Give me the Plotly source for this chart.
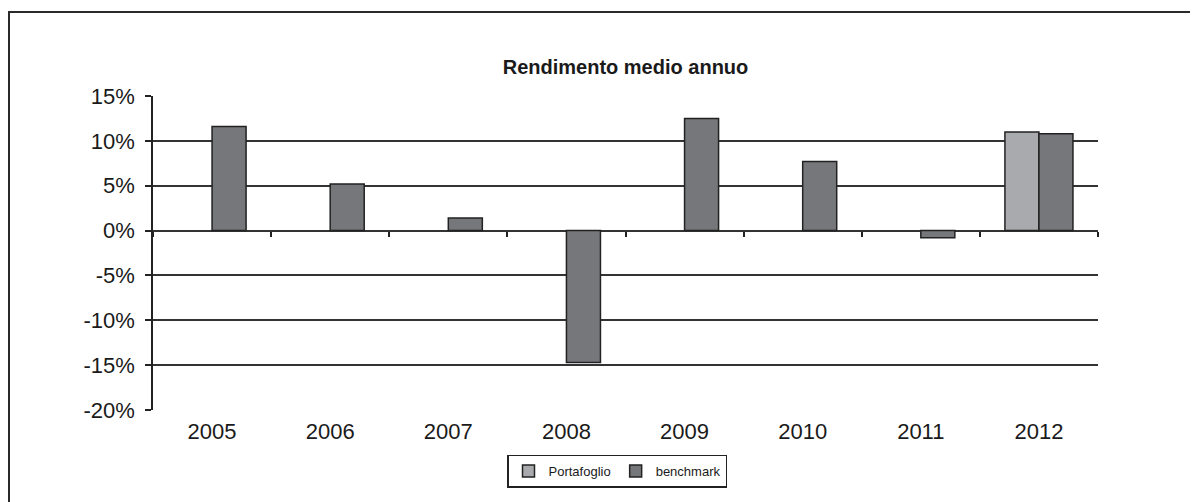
import plotly.graph_objects as go

years = ["2005", "2006", "2007", "2008", "2009", "2010", "2011", "2012"]
portafoglio = [None, None, None, None, None, None, None, 11.0]
benchmark = [11.6, 5.2, 1.4, -14.7, 12.5, 7.7, -0.8, 10.8]
y_ticks = [-20, -15, -10, -5, 0, 5, 10, 15]
y_labels = ["-20%", "-15%", "-10%", "-5%", "0%", "5%", "10%", "15%"]

FONT = "Liberation Sans, Arial, sans-serif"
EDGE = "#222222"

# the page has an 8px body margin, so plot coords are shifted by -8
L, R, T, B = 145, 1090, 88, 402
PW, PH = R - L, B - T

fig = go.Figure()

fig.add_trace(go.Bar(
    x=years, y=portafoglio, name="Portafoglio",
    marker=dict(color="#a9aaad", line=dict(color=EDGE, width=1.5)),
))
fig.add_trace(go.Bar(
    x=years, y=benchmark, name="benchmark",
    marker=dict(color="#76777b", line=dict(color=EDGE, width=1.5)),
))

# invisible helper trace so the category axis crossing at 0 gets its ticks
fig.add_trace(go.Scatter(
    x=years, y=benchmark, xaxis="x2", mode="markers",
    marker=dict(opacity=0), showlegend=False, hoverinfo="skip",
))

y_min, y_max = y_ticks[0], y_ticks[-1]

fig.update_layout(
    width=1198, height=502,
    margin=dict(l=L, r=1198 - R, t=T, b=502 - B),
    paper_bgcolor="white", plot_bgcolor="white",
    font=dict(family=FONT, color="#1a1a1a", size=22),
    barmode="group", bargap=0.424, bargroupgap=0,
    title=dict(
        text="<b>Rendimento medio annuo</b>",
        x=(L + R) / 2 / 1198, xanchor="center",
        y=1 - 59 / 502, yanchor="middle",
        font=dict(size=20, family=FONT, color="#1a1a1a"),
    ),
    xaxis=dict(
        type="category", range=[-0.5, 7.5],
        showgrid=False, zeroline=False, showline=False, ticks="",
        tickfont=dict(size=22), ticklabelstandoff=6,
    ),
    xaxis2=dict(
        type="category", overlaying="x", anchor="free",
        position=(0 - y_min) / (y_max - y_min),
        range=[-0.5, 7.5], tickson="boundaries",
        ticks="outside", ticklen=5, tickcolor=EDGE, tickwidth=1.5,
        showticklabels=False, showgrid=False, zeroline=False, showline=False,
    ),
    yaxis=dict(
        range=[y_min, y_max], tickvals=y_ticks, ticktext=y_labels,
        showgrid=True, gridcolor="#333333", gridwidth=1.5,
        zeroline=True, zerolinecolor="#333333", zerolinewidth=1.5,
        showline=True, linecolor=EDGE, linewidth=1.5,
        ticks="outside", ticklen=6, tickcolor=EDGE, tickwidth=1.5,
        ticklabelstandoff=6,
    ),
    showlegend=True,
    legend=dict(
        orientation="h", x=(609 - L) / PW, xanchor="center",
        y=(B - 463) / PH, yanchor="middle",
        bordercolor=EDGE, borderwidth=1.5,
        font=dict(size=13, family=FONT),
        itemwidth=30, traceorder="normal",
    ),
)

# outer chart frame
fig.add_shape(
    type="rect", xref="paper", yref="paper",
    x0=(1 - L) / PW, x1=(1210 - L) / PW,
    y0=(B - 515) / PH, y1=(B - 4) / PH,
    line=dict(color="#2a2a2a", width=2), layer="below",
)

fig.write_html("out.html")
